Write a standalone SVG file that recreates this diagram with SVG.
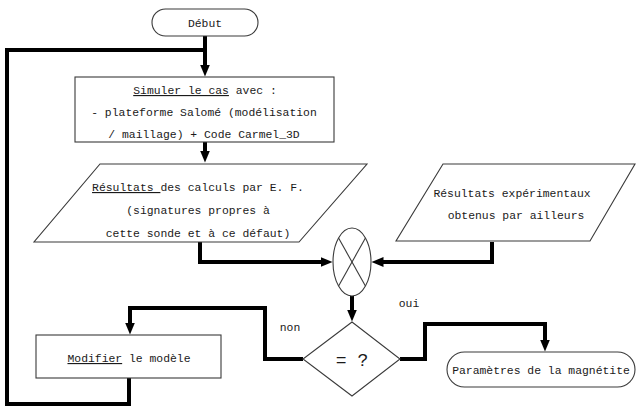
<svg xmlns="http://www.w3.org/2000/svg" width="637" height="410" viewBox="0 0 637 410">
  <style>
    .shape { fill: #ffffff; stroke: #3a3a3a; stroke-width: 1.1; }
    .conn { fill: none; stroke: #000000; stroke-width: 4; stroke-linejoin: miter; stroke-linecap: square; }
    .arrowed { stroke-linecap: butt; marker-end: url(#arrow); }
    .label { font-family: "Liberation Mono", "DejaVu Sans Mono", monospace; font-size: 11.4px; fill: #1a1a1a; text-anchor: middle; }
    .ul { text-decoration: underline; }
    .big { font-size: 18px; }
  </style>
  <defs>
    <marker id="arrow" markerUnits="userSpaceOnUse" markerWidth="14" markerHeight="12" refX="0.5" refY="6" orient="auto">
      <path d="M0,1 L12,6 L0,11 Z" fill="#000000"/>
    </marker>
  </defs>

  <rect width="637" height="410" fill="#ffffff"/>

  <!-- connectors -->
  <g id="connectors">
    <path class="conn arrowed" d="M205,36 V65"/>
    <path class="conn" d="M129,378 V404 H7 V50 H205"/>
    <path class="conn arrowed" d="M205,142 V151"/>
    <path class="conn arrowed" d="M200,242 V262 H321"/>
    <path class="conn arrowed" d="M492,242 V262 H383"/>
    <path class="conn arrowed" d="M352,296 V310"/>
    <path class="conn arrowed" d="M400,359 H425 V324 H545 V340"/>
    <path class="conn arrowed" d="M303,359 H265 V308 H130 V323"/>
  </g>

  <!-- start -->
  <g id="debut">
    <rect class="shape" x="152" y="9" width="106" height="27" rx="13.5" ry="13.5"/>
    <text class="label" x="205" y="27">Début</text>
  </g>

  <!-- simulation step -->
  <g id="simuler">
    <rect class="shape" x="75" y="77" width="259" height="65"/>
    <text class="label" x="205" y="94"><tspan class="ul">Simuler le cas</tspan> avec :</text>
    <text class="label" x="204" y="116">- plateforme Salomé (modélisation</text>
    <text class="label" x="204" y="138">/ maillage) + Code Carmel_3D</text>
  </g>

  <!-- finite element results -->
  <g id="resultats-ef">
    <polygon class="shape" points="100,164 367,164 299,242 34,242"/>
    <text class="label" x="198" y="191" xml:space="preserve"><tspan class="ul">Résultats </tspan>des calculs par E. F.</text>
    <text class="label" x="198" y="214">(signatures propres à</text>
    <text class="label" x="198" y="237">cette sonde et à ce défaut)</text>
  </g>

  <!-- experimental results -->
  <g id="resultats-exp">
    <polygon class="shape" points="443,164 635,164 590,241 396,241"/>
    <text class="label" x="512" y="197">Résultats expérimentaux</text>
    <text class="label" x="516" y="219">obtenus par ailleurs</text>
  </g>

  <!-- comparison -->
  <g id="comparateur">
    <ellipse class="shape" cx="352" cy="262" rx="19" ry="34"/>
    <line class="shape" x1="338.6" y1="238" x2="365.4" y2="286"/>
    <line class="shape" x1="365.4" y1="238" x2="338.6" y2="286"/>
  </g>

  <!-- decision -->
  <g id="decision">
    <polygon class="shape" points="352,322 400,359 352,396 303,359"/>
    <text class="label big" x="352" y="366">= ?</text>
  </g>

  <g id="label-oui">
    <text class="label" x="409" y="307">oui</text>
  </g>
  <g id="label-non">
    <text class="label" x="290" y="331">non</text>
  </g>

  <!-- model update -->
  <g id="modifier">
    <rect class="shape" x="36" y="335" width="185" height="43"/>
    <text class="label" x="129" y="362"><tspan class="ul">Modifier</tspan> le modèle</text>
  </g>

  <!-- outcome -->
  <g id="parametres">
    <rect class="shape" x="447" y="352" width="188" height="35" rx="17.5" ry="17.5"/>
    <text class="label" x="541" y="374">Paramètres de la magnétite</text>
  </g>
</svg>
